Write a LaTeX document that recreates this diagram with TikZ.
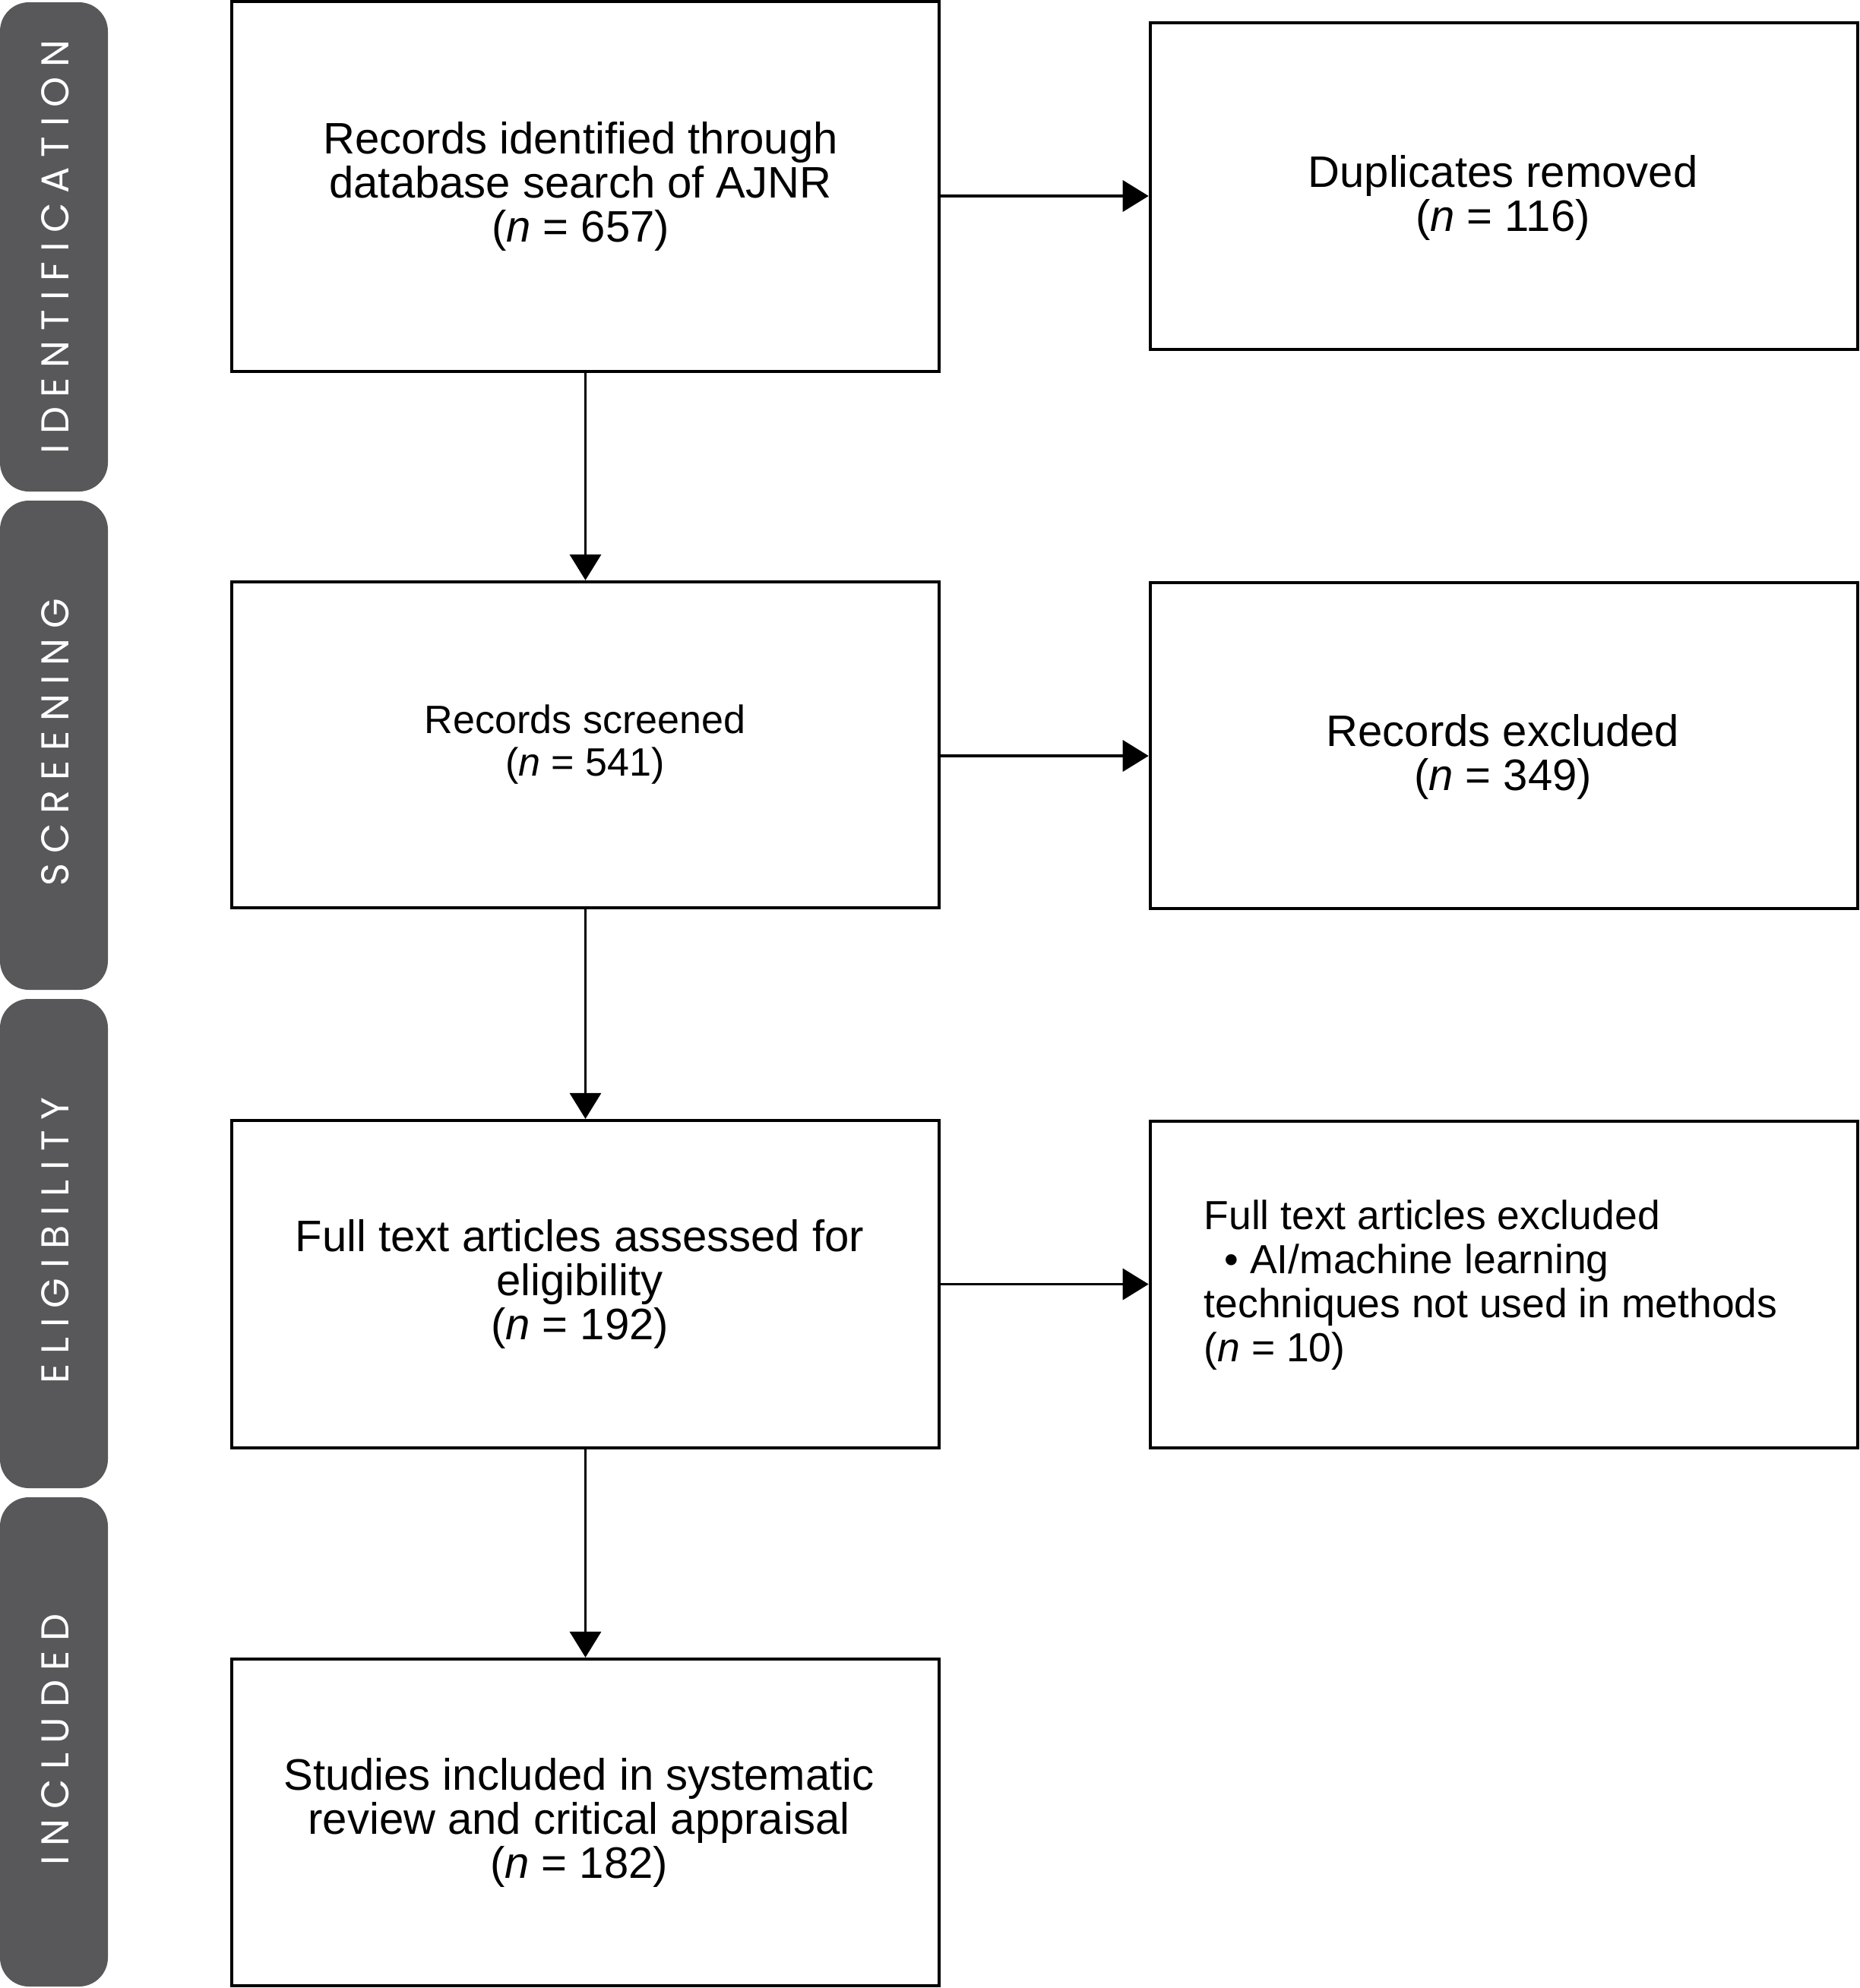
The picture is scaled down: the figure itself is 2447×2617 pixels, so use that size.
\documentclass[tikz,border=0pt]{standalone}
\usepackage{fontspec}
\setmainfont{Liberation Sans}
\newfontfamily\tabfont[LetterSpace=25]{Poppins}
\usetikzlibrary{arrows.meta}
\definecolor{tabgray}{HTML}{58585A}
\newcommand{\myfontA}{\fontsize{16.5pt}{16.5pt}\selectfont}
\newcommand{\myfontB}{\fontsize{14.8pt}{15.65pt}\selectfont}
\newcommand{\myfontC}{\fontsize{15.2pt}{16.5pt}\selectfont}
\newcommand{\myfontT}{\tabfont\fontsize{14.5pt}{14.5pt}\selectfont}
\begin{document}
\begin{tikzpicture}[x=0.01cm,y=-0.01cm,
  box/.style={draw, line width=1.14pt, inner sep=0pt, minimum width=9.31cm},
  txt/.style={inner sep=0pt, align=center, font=\myfontA},
  arr/.style={line width=1pt, -{Triangle[length=0.34cm,width=0.41cm]}},
  tabshape/.style={fill=tabgray, rounded corners=0.38cm},
  tabtext/.style={text=white, rotate=90, font=\myfontT, inner sep=0pt}]
\useasboundingbox (0,0) rectangle (2447,2617);

% phase tabs
\fill[tabshape] (0,3) rectangle (142,647);
\fill[tabshape] (0,659) rectangle (142,1303);
\fill[tabshape] (0,1315) rectangle (142,1959);
\fill[tabshape] (0,1971) rectangle (142,2615);
\node[tabtext] (l1) at (73,325) {IDENTIFICATION};
\node[tabtext] (l2) at (73,977) {SCREENING};
\node[tabtext] (l3) at (73,1633) {ELIGIBILITY};
\node[tabtext] (l4) at (73,2290) {INCLUDED};

% boxes
\node[box, minimum height=4.87cm] (b1) at (770.5,245.5) {};
\node[box, minimum height=4.30cm] (b2) at (1979.5,245) {};
\node[box, minimum height=4.29cm] (b3) at (770.5,980.5) {};
\node[box, minimum height=4.29cm] (b4) at (1979.5,981.5) {};
\node[box, minimum height=4.31cm] (b5) at (770.5,1690.5) {};
\node[box, minimum height=4.30cm] (b6) at (1979.5,1691) {};
\node[box, minimum height=4.30cm] (b7) at (770.5,2399) {};

% texts
\node[txt] (t1) at (764,245) {Records identified through\\database search of AJNR\\(\textit{n} = 657)};
\node[txt] (t2) at (1978,260) {Duplicates removed\\(\textit{n} = 116)};
\node[txt, font=\myfontB] (t3) at (770,980) {Records screened\\(\textit{n} = 541)};
\node[txt] (t4) at (1978,996) {Records excluded\\(\textit{n} = 349)};
\node[txt] (t5) at (763,1690) {Full text articles assessed for\\eligibility\\(\textit{n} = 192)};
\node[txt, align=left, anchor=west, font=\myfontC] (t6) at (1584,1692) {Full text articles excluded\\\hspace*{0.27cm}• AI/machine learning\\techniques not used in methods\\(\textit{n} = 10)};
\node[txt] (t7) at (762,2399) {Studies included in systematic\\review and critical appraisal\\(\textit{n} = 182)};

% connectors
\draw[arr] (b1.south) -- (b3.north);
\draw[arr] (b3.south) -- (b5.north);
\draw[arr] (b5.south) -- (b7.north);
\draw[arr] ([yshift=-0.125cm]b1.east) -- ([yshift=-0.125cm]b1.east -| b2.west);
\draw[arr] ([yshift=-0.145cm]b3.east) -- ([yshift=-0.145cm]b3.east -| b4.west);
\draw[arr] (b5.east) -- (b5.east -| b6.west);
\end{tikzpicture}
\end{document}
